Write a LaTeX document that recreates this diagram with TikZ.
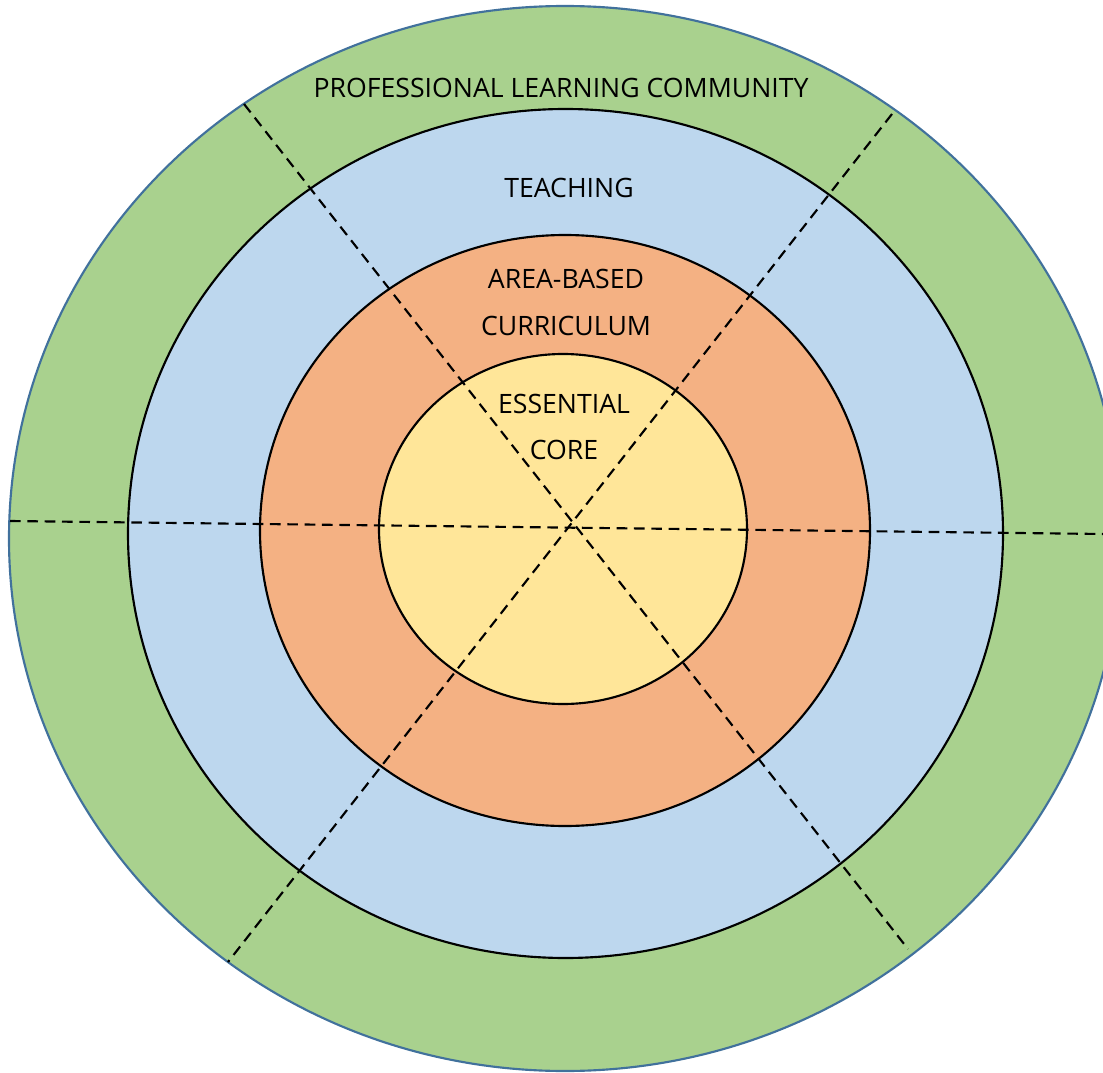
\documentclass[tikz,border=0pt]{standalone}
\usepackage{fontspec}
\setmainfont{Open Sans}
\usepackage{tikz}

\definecolor{plcgreen}{HTML}{A9D18E}
\definecolor{teachblue}{HTML}{BDD7EE}
\definecolor{areaorange}{HTML}{F4B183}
\definecolor{coreyellow}{HTML}{FFE699}
\definecolor{rimblue}{HTML}{41719C}

\begin{document}
\begin{tikzpicture}[
                    x=0.75pt, y=-0.75pt,
                    ring/.style={draw=black, line width=1.6pt},
                    divider/.style={draw=black, line width=1.6pt, dash pattern=on 8pt off 5pt},
                    layer/.style={font=\fontsize{20}{35}\selectfont, align=center, inner sep=0pt},
                ]
                \clip (0,0) rectangle (1103,1073);
                \useasboundingbox (0,0) rectangle (1103,1073);

                % rings, outside in
                \filldraw[fill=plcgreen, draw=rimblue, line width=1.6pt] (565,538.5) ellipse [x radius=556, y radius=532.5];
                \filldraw[ring, fill=teachblue] (565.5,533.5) ellipse [x radius=437.5, y radius=424.5];
                \filldraw[ring, fill=areaorange] (565,530.5) ellipse [x radius=305, y radius=295.5];
                \filldraw[ring, fill=coreyellow] (563,529) ellipse [x radius=184, y radius=175];

                % ends of the dividers
                \coordinate (west) at (10,521);
                \coordinate (east) at (1103,534);
                \coordinate (northwest) at (244,104);
                \coordinate (southeast) at (908,949);
                \coordinate (northeast) at (892,114);
                \coordinate (southwest) at (228,962);

                \draw[divider] (west) -- (east);
                \draw[divider] (northwest) -- (southeast);
                \draw[divider] (northeast) -- (southwest);

                \node[layer] (plc) at (561,88) {PROFESSIONAL LEARNING COMMUNITY};
                \node[layer] (teaching) at (569,188) {TEACHING};
                \node[layer] (curriculum) at (566,302.5) {AREA-BASED\\CURRICULUM};
                \node[layer] (core) at (564,427) {ESSENTIAL\\CORE};
            \end{tikzpicture}
\end{document}
